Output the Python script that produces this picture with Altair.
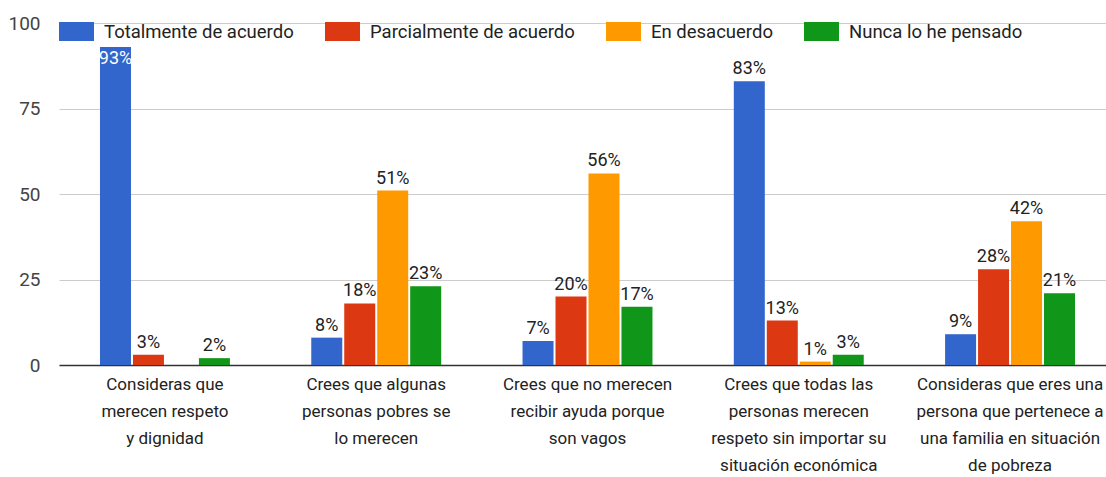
import altair as alt
import pandas as pd

# Survey statements (line breaks mark how each axis label wraps)
categories = [
    "Consideras que\nmerecen respeto\ny dignidad",
    "Crees que algunas\npersonas pobres se\nlo merecen",
    "Crees que no merecen\nrecibir ayuda porque\nson vagos",
    "Crees que todas las\npersonas merecen\nrespeto sin importar su\nsituación económica",
    "Consideras que eres una\npersona que pertenece a\nuna familia en situación\nde pobreza",
]
series = [
    "Totalmente de acuerdo",
    "Parcialmente de acuerdo",
    "En desacuerdo",
    "Nunca lo he pensado",
]
totalmente = [93, 8, 7, 83, 9]
parcialmente = [3, 18, 20, 13, 28]
desacuerdo = [0, 51, 56, 1, 42]
nunca = [2, 23, 17, 3, 21]
colors = ["#3366CC", "#DC3912", "#FF9900", "#109618"]
y_ticks = [0, 25, 50, 75, 100]

rows = []
for name, vals in zip(series, [totalmente, parcialmente, desacuerdo, nunca]):
    for cat, v in zip(categories, vals):
        rows.append({"pregunta": cat, "respuesta": name, "valor": v, "texto": f"{v}%"})
df = pd.DataFrame(rows)

FONT = "Roboto"

x_enc = alt.X(
    "pregunta:N",
    sort=categories,
    scale=alt.Scale(range=[0, 1057], paddingInner=0.385, paddingOuter=0.194),
    axis=alt.Axis(
        title=None,
        labelAngle=0,
        labelExpr="split(datum.value, '\\n')",
        labelFontSize=17,
        labelFont=FONT,
        labelColor="#222222",
        labelLineHeight=27,
        labelPadding=11,
        labelLimit=400,
        ticks=False,
        domainColor="#333333",
        domainWidth=1.5,
        grid=False,
    ),
)
xoff_enc = alt.XOffset(
    "respuesta:N", sort=series, scale=alt.Scale(paddingInner=0.06)
)
y_enc = alt.Y(
    "valor:Q",
    scale=alt.Scale(domain=[0, 100], nice=False),
    axis=alt.Axis(
        title=None,
        values=y_ticks,
        labelFontSize=19,
        labelFont=FONT,
        labelColor="#444444",
        labelPadding=19,
        ticks=False,
        domain=False,
        gridColor="#CCCCCC",
        gridWidth=1,
    ),
)

base = alt.Chart(df).encode(x=x_enc, xOffset=xoff_enc, y=y_enc)

bars = base.mark_bar().encode(
    color=alt.Color(
        "respuesta:N",
        sort=series,
        scale=alt.Scale(domain=series, range=colors),
        legend=alt.Legend(
            title=None,
            orient="none",
            legendX=0,
            legendY=-9,
            direction="horizontal",
            symbolType="M-1,-0.54H1V0.54H-1Z",
            symbolSize=1225,
            symbolStrokeWidth=0,
            symbolOpacity=1,
            labelFontSize=18.5,
            labelFont=FONT,
            labelColor="#222222",
            labelOffset=10,
            labelLimit=400,
            columnPadding=31,
            padding=0,
        ),
    )
)

labels_above = base.transform_filter(
    (alt.datum.valor > 0) & (alt.datum.valor < 90)
).mark_text(
    baseline="bottom", dy=-3, fontSize=18, font=FONT, color="#222222"
).encode(text="texto:N")

labels_inside = base.transform_filter(alt.datum.valor >= 90).mark_text(
    baseline="top", dy=3, fontSize=18, font=FONT, color="#FFFFFF"
).encode(text="texto:N")

chart = (
    alt.layer(bars, labels_above, labels_inside)
    .properties(
        width=1047,
        height=342,
        autosize=alt.AutoSizeParams(type="none"),
        padding={"left": 59, "top": 23, "right": 0, "bottom": 112},
        background="white",
    )
    .configure_view(stroke=None)
)

chart.save("out.html", embed_options={"renderer": "svg", "actions": False})
